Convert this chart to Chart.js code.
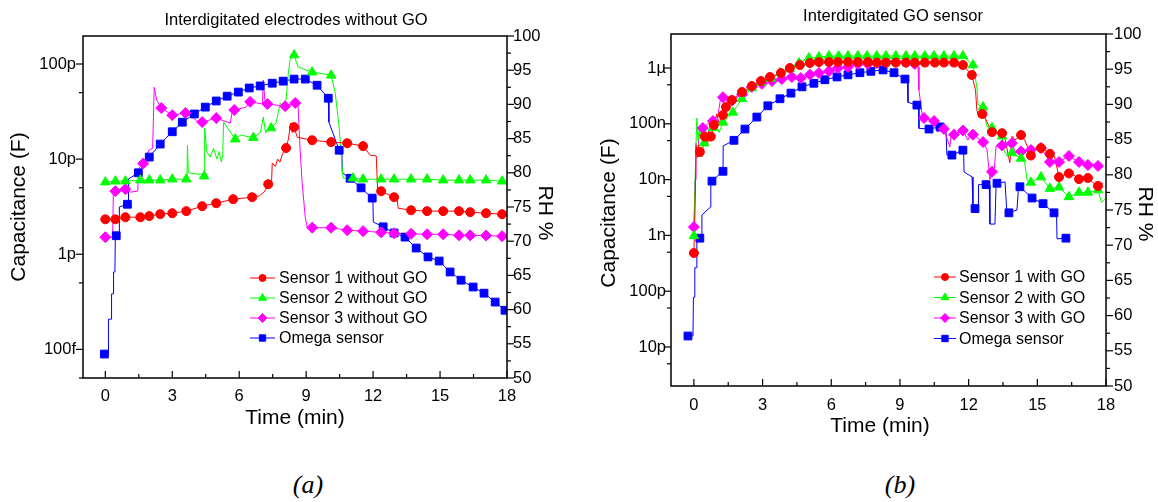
<!DOCTYPE html>
<html>
<head>
<meta charset="utf-8">
<script src="https://cdn.jsdelivr.net/npm/chart.js@4.4.0/dist/chart.umd.min.js"></script>
<style>
  body { margin: 0; background: #fff; width: 1158px; height: 502px; position: relative; overflow: hidden; }
  canvas { position: absolute; top: 0; }
  #chartA { left: 0; }
  #chartB { left: 579px; }
  .tag { position: absolute; top: 470px; transform: translateX(-50%); font: italic 26px "Liberation Serif", "Times New Roman", serif; color: #000; }
</style>
</head>
<body>
<canvas id="chartA" width="579" height="440"></canvas>
<canvas id="chartB" width="579" height="440"></canvas>
<div class="tag" style="left:308px">(a)</div>
<div class="tag" style="left:900px">(b)</div>
<script>
// ---- axes ----
const timeTicks = [0, 3, 6, 9, 12, 15, 18];
const capTicksA = [1e-13, 1e-12, 1e-11, 1e-10];
const capLabelsA = ['100f', '1p', '10p', '100p'];
const capTicksB = [1e-11, 1e-10, 1e-9, 1e-8, 1e-7, 1e-6];
const capLabelsB = ['10p', '100p', '1n', '10n', '100n', '1\u00b5'];

// ---- (a) electrodes without GO: [time (min), capacitance (F)] ----
// "Marks" carry a symbol, "Between" are the unmarked readings the line passes through
const sensor1AMarks = [[0,2.33e-12],[0.45,2.33e-12],[0.9,2.45e-12],[1.57,2.45e-12],[1.97,2.52e-12],[2.46,2.64e-12],[3.0,2.7e-12],[3.63,2.84e-12],[4.34,3.2e-12],[4.97,3.44e-12],[5.73,3.79e-12],[6.58,3.98e-12],[7.3,5.45e-12],[8.1,1.31e-11],[8.46,2.17e-11],[9.27,1.58e-11],[10.12,1.51e-11],[10.84,1.47e-11],[11.55,1.37e-11],[12.36,4.6e-12],[12.94,3.98e-12],[13.7,2.9e-12],[14.42,2.84e-12],[15.14,2.84e-12],[15.85,2.84e-12],[16.35,2.77e-12],[17.06,2.7e-12],[17.78,2.64e-12]];
const sensor1ABetween = [[6.9,4.1e-12],[7.15,4.6e-12],[7.45,5.7e-12],[7.48,9.1e-12],[7.62,8.4e-12],[7.72,1.0e-11],[7.82,9.3e-12],[7.95,1.15e-11],[8.2,1.6e-11],[8.3,2.39e-11],[8.38,1.9e-11],[8.6,1.7e-11],[11.87,1.1e-11],[12.14,1.08e-11],[12.2,4.95e-12],[13.08,3.9e-12],[13.12,3.05e-12]];

const sensor2AMarks = [[0,5.73e-12],[0.45,5.86e-12],[0.9,5.86e-12],[1.57,6.01e-12],[1.97,6.01e-12],[2.46,6.01e-12],[3.0,6.15e-12],[3.63,6.15e-12],[4.43,6.62e-12],[5.82,1.62e-11],[6.63,1.68e-11],[7.43,2.12e-11],[8.46,1.24e-10],[9.27,8.2e-11],[10.12,7.6e-11],[11.1,6.3e-12],[11.55,6.15e-12],[12.36,6.15e-12],[12.94,6.15e-12],[13.7,6.15e-12],[14.42,6.15e-12],[15.14,6.01e-12],[15.85,6.01e-12],[16.35,6.01e-12],[17.06,6.01e-12],[17.78,5.86e-12]];
const sensor2ABetween = [[3.66,6.2e-12],[3.68,1.4e-11],[3.72,7.2e-12],[4.0,7.0e-12],[4.4,6.9e-12],[4.45,2.12e-11],[4.55,1.19e-11],[4.7,1.05e-11],[4.85,1.3e-11],[5.0,1.0e-11],[5.1,1.2e-11],[5.2,9.3e-12],[5.26,1.1e-11],[5.3,2.45e-11],[5.45,2.17e-11],[6.05,1.79e-11],[6.95,1.9e-11],[7.08,2.77e-11],[7.18,1.9e-11],[7.65,2.4e-11],[7.84,3.88e-11],[7.95,3.6e-11],[8.1,4.18e-11],[8.2,8.04e-11],[8.28,1.1e-10],[8.64,9.3e-11],[9.63,8.0e-11],[10.3,5.0e-11],[10.48,2.17e-11],[10.61,8.2e-12],[10.66,6.3e-12]];

const sensor3AMarks = [[0,1.51e-12],[0.45,4.6e-12],[0.9,4.83e-12],[1.7,9.0e-12],[2.51,3.44e-11],[3.0,2.9e-11],[3.59,3.05e-11],[4.34,2.45e-11],[4.97,2.7e-11],[5.78,3.28e-11],[6.49,4.0e-11],[7.26,3.8e-11],[8.06,3.6e-11],[8.51,3.9e-11],[9.27,1.9e-12],[10.12,1.9e-12],[10.84,1.79e-12],[11.55,1.75e-12],[12.36,1.7e-12],[12.94,1.66e-12],[13.7,1.64e-12],[14.42,1.62e-12],[15.14,1.62e-12],[15.85,1.58e-12],[16.35,1.58e-12],[17.06,1.57e-12],[17.78,1.55e-12]];
const sensor3ABetween = [[0.33,1.51e-12],[0.36,4.6e-12],[1.12,4.5e-12],[1.45,4.6e-12],[1.5,8.0e-12],[1.95,1.24e-11],[2.12,1.3e-11],[2.19,5.7e-11],[2.3,4.18e-11],[3.9,2.77e-11],[4.2,2.4e-11],[5.6,2.39e-11],[5.7,3.28e-11],[6.3,3.52e-11],[7.04,3.8e-11],[7.08,6.8e-11],[7.15,4.18e-11],[8.64,3.6e-11],[8.73,1.24e-11],[8.82,5.6e-12],[8.96,2.45e-12],[9.05,1.9e-12]];

// Omega reference sensor, [time (min), RH %]
const omegaAMarks = [[-0.04,53.5],[0.49,70.8],[0.99,75.4],[1.48,80.0],[1.97,82.3],[2.46,84.2],[3.0,86.0],[3.45,87.4],[3.99,88.6],[4.48,89.6],[4.97,90.5],[5.46,91.2],[5.96,91.8],[6.45,92.4],[6.94,92.7],[7.48,93.1],[7.97,93.4],[8.46,93.7],[8.96,93.7],[9.49,92.8],[9.99,90.9],[10.48,83.3],[10.97,79.2],[11.46,77.8],[11.96,76.3],[12.45,72.1],[12.94,71.2],[13.43,70.6],[13.93,69.0],[14.46,67.7],[14.96,67.1],[15.45,65.5],[15.94,64.3],[16.48,63.3],[16.97,62.4],[17.47,61.1],[17.91,59.9]];
const omegaABetween = [[0.13,53.5],[0.14,58.6],[0.27,58.6],[0.28,62.3],[0.36,62.3],[0.37,65.5],[0.43,65.5],[0.45,70.8],[0.62,70.8],[0.63,75.0],[1.03,75.4],[1.04,79.1],[10.02,87.4],[10.6,83.0],[10.62,80.0],[11.99,76.0],[12.01,72.8]];

// ---- (b) GO sensors ----
const sensor1BMarks = [[0,4.84e-10],[0.26,3.13e-8],[0.48,5.9e-8],[0.74,5.9e-8],[0.87,9.5e-8],[1.27,1.44e-7],[1.4,2.0e-7],[1.66,2.67e-7],[2.1,3.72e-7],[2.53,4.75e-7],[2.93,5.85e-7],[3.32,6.9e-7],[3.8,8.13e-7],[4.19,1.0e-6],[4.63,1.13e-6],[5.07,1.23e-6],[5.46,1.28e-6],[5.9,1.28e-6],[6.29,1.28e-6],[6.73,1.28e-6],[7.16,1.28e-6],[7.6,1.28e-6],[7.99,1.25e-6],[8.39,1.25e-6],[8.82,1.25e-6],[9.26,1.25e-6],[9.65,1.25e-6],[10.09,1.25e-6],[10.53,1.25e-6],[10.92,1.25e-6],[11.36,1.25e-6],[11.75,1.13e-6],[12.14,7.5e-7],[12.6,1.5e-7],[13.02,7.1e-8],[13.46,6.8e-8],[14.29,6.3e-8],[14.72,2.7e-8],[15.16,3.68e-8],[15.55,2.9e-8],[15.95,1.11e-8],[16.38,1.29e-8],[16.82,1.02e-8],[17.21,1.07e-8],[17.65,7.7e-9]];
const sensor1BBetween = [[0.05,3e-9],[0.1,4.0e-8],[0.15,2.5e-8],[0.2,4.2e-8],[0.35,2.6e-8],[0.42,4.5e-8],[0.6,4.2e-8],[0.65,7.5e-8],[0.8,7.0e-8],[1.0,1.5e-7],[1.1,1.0e-7],[1.2,1.3e-7],[12.3,4.0e-7],[12.36,1.77e-7],[12.45,1.3e-7],[12.75,1.2e-7],[12.93,8.4e-8],[13.6,5.1e-8],[13.8,2.0e-8],[13.9,6.0e-8],[14.02,5.1e-8],[14.45,5.1e-8],[14.9,3.5e-8],[15.3,3.4e-8],[15.75,2.6e-8],[16.6,1.2e-8],[17.4,9.0e-9],[17.87,8.7e-9]];

const sensor2BMarks = [[0,9.8e-10],[0.44,4.5e-8],[0.83,8.5e-8],[1.27,1.06e-7],[1.7,1.6e-7],[2.1,2.8e-7],[2.53,4.4e-7],[2.93,5.5e-7],[3.36,6.5e-7],[3.76,8.13e-7],[4.19,9.6e-7],[4.59,1.23e-6],[5.02,1.51e-6],[5.46,1.57e-6],[5.9,1.64e-6],[6.32,1.64e-6],[6.73,1.64e-6],[7.16,1.64e-6],[7.56,1.64e-6],[7.99,1.64e-6],[8.39,1.64e-6],[8.82,1.64e-6],[9.26,1.64e-6],[9.65,1.64e-6],[10.09,1.64e-6],[10.49,1.64e-6],[10.92,1.64e-6],[11.36,1.64e-6],[11.75,1.64e-6],[12.19,1.13e-6],[12.63,2.0e-7],[13.02,8.5e-8],[13.46,6.0e-8],[13.89,3.0e-8],[14.29,2.4e-8],[14.72,8.9e-9],[15.16,1.11e-8],[15.55,6.9e-9],[15.95,7.3e-9],[16.38,4.9e-9],[16.82,5.9e-9],[17.21,5.9e-9],[17.65,6.5e-9]];
const sensor2BBetween = [[0.08,3e-8],[0.13,1.27e-7],[0.18,5e-8],[0.24,9e-8],[0.3,5.5e-8],[0.36,8e-8],[0.6,6.5e-8],[0.7,5e-8],[1.0,9e-8],[1.1,7e-8],[1.5,1.3e-7],[12.36,4.57e-7],[12.41,2.2e-7],[12.8,9e-8],[13.55,3.3e-8],[13.7,2.6e-8],[14.45,2.0e-8],[14.55,1.0e-8],[17.8,3.9e-9],[17.95,4.5e-9]];

const sensor3BMarks = [[0,1.41e-9],[0.39,8.4e-8],[0.83,1.12e-7],[1.27,3.0e-7],[1.66,2.6e-7],[2.1,3.35e-7],[2.53,4.57e-7],[2.97,5.2e-7],[3.41,5.85e-7],[3.84,6.35e-7],[4.28,6.9e-7],[4.67,6.6e-7],[5.07,7.6e-7],[5.46,8.13e-7],[5.9,8.8e-7],[6.29,1.0e-6],[6.73,1.04e-6],[7.16,1.18e-6],[7.6,1.18e-6],[7.99,1.23e-6],[8.39,1.28e-6],[8.82,1.28e-6],[9.26,1.28e-6],[9.65,1.18e-6],[10.05,1.27e-7],[10.49,1.12e-7],[10.92,8.1e-8],[11.36,6.4e-8],[11.75,7.6e-8],[12.19,6.4e-8],[12.63,4.7e-8],[13.02,1.38e-8],[13.46,4.1e-8],[13.89,4.5e-8],[14.29,3.2e-8],[14.72,3.4e-8],[15.16,3.68e-8],[15.55,2.07e-8],[15.95,2.07e-8],[16.38,2.65e-8],[16.82,2.07e-8],[17.21,1.83e-8],[17.65,1.76e-8]];
const sensor3BBetween = [[0.05,1.0e-8],[0.09,4.5e-8],[0.15,3.0e-8],[0.25,7.0e-8],[0.6,1.0e-7],[1.05,1.4e-7],[1.15,2.6e-7],[9.79,1.05e-6],[9.83,4.0e-7],[9.96,1.56e-7],[10.66,7.1e-8],[10.75,9.0e-8],[11.18,3.84e-8],[11.25,7.0e-8],[11.97,5.1e-8],[12.1,7.0e-8],[12.8,3.5e-8],[12.93,1.0e-8],[13.1,1.2e-8],[13.2,4.0e-8],[14.05,3.0e-8],[17.87,1.68e-8]];

const omegaBMarks = [[-0.26,57.1],[0.26,71.0],[0.79,79.1],[1.27,80.5],[1.75,84.9],[2.23,86.5],[2.75,88.2],[3.23,89.8],[3.76,90.8],[4.24,91.6],[4.72,92.5],[5.24,93.0],[5.72,93.5],[6.25,93.9],[6.73,94.2],[7.25,94.5],[7.73,94.7],[8.26,94.9],[8.74,94.5],[9.22,93.6],[9.74,89.9],[10.27,86.5],[10.75,86.8],[11.27,82.8],[11.75,83.5],[12.28,75.2],[12.76,78.6],[13.24,78.8],[13.76,74.6],[14.24,78.3],[14.77,76.7],[15.25,75.9],[15.73,74.6],[16.25,71.0]];
const omegaBBetween = [[-0.04,57.1],[-0.02,62.6],[0.02,62.6],[0.04,66.8],[0.1,66.8],[0.13,71.0],[0.33,71.0],[0.35,74.3],[0.72,75.4],[0.74,79.1],[1.28,84.1],[9.33,93.4],[9.35,90.3],[9.81,89.9],[9.83,86.6],[11.01,86.4],[11.05,82.8],[11.78,83.4],[11.8,80.4],[12.15,79.7],[12.19,75.2],[12.41,75.3],[12.43,78.6],[12.9,78.5],[12.93,73.0],[13.15,73.0],[13.2,78.8],[13.59,79.0],[13.67,74.6],[14.11,75.0],[14.18,78.3],[15.84,74.4],[15.86,70.9]];

const RED = '#ff0000', GREEN = '#00ff00', MAGENTA = '#ff00ff', BLUE = '#0000ff';
const FONT = '"Liberation Sans", Arial, sans-serif';

// one series = a thin line through every reading + symbols on the marked ones
function series(label, marks, between, color, style, radius, axis) {
  const trace = marks.concat(between).sort((p, q) => p[0] - q[0]);
  return [
    { label: label, data: trace, yAxisID: axis, borderColor: color, borderWidth: 1, pointRadius: 0, tension: 0, order: 2 },
    { label: label, data: marks, yAxisID: axis, showLine: false, pointStyle: style, pointRadius: radius,
      backgroundColor: color, borderColor: color, borderWidth: 1, order: 1 }
  ];
}

// frame, inward time ticks, outward y ticks, titles and legend
const decor = {
  id: 'decor',
  afterDraw(chart, args, o) {
    const { ctx, chartArea: a } = chart;
    const sx = chart.scales.x, sc = chart.scales.cap, sr = chart.scales.rh;
    ctx.save();
    ctx.strokeStyle = '#000';
    ctx.lineWidth = 1.2;
    const seg = (x1, y1, x2, y2) => { ctx.beginPath(); ctx.moveTo(x1, y1); ctx.lineTo(x2, y2); ctx.stroke(); };

    for (let t = 0; t <= 18; t += 1.5) {
      const px = sx.getPixelForValue(t);
      seg(px, a.bottom, px, a.bottom - (t % 3 ? 4 : 7));
    }
    for (let k = Math.floor(Math.log10(sc.min)); k <= Math.log10(sc.max); k++) {
      const major = Math.pow(10, k), minor = 5 * major;
      if (major >= sc.min) { const py = sc.getPixelForValue(major); seg(a.left, py, a.left - 7, py); }
      if (minor <= sc.max && minor >= sc.min) { const py = sc.getPixelForValue(minor); seg(a.left, py, a.left - 4, py); }
    }
    for (let v = 50; v <= 100; v += 2.5) {
      const py = sr.getPixelForValue(v);
      seg(a.right, py, a.right + (v % 5 ? 4 : 7), py);
    }
    ctx.lineWidth = 1.5;
    ctx.strokeRect(a.left, a.top, a.right - a.left, a.bottom - a.top);

    ctx.fillStyle = '#000';
    ctx.textAlign = 'center';
    ctx.textBaseline = 'middle';
    ctx.font = '16.5px ' + FONT;
    ctx.fillText(o.title, o.titleX, o.titleY);

    ctx.font = '21px ' + FONT;
    ctx.fillText('Time (min)', o.xTitle[0], o.xTitle[1]);
    ctx.save();
    ctx.translate(o.yTitle[0], o.yTitle[1]);
    ctx.rotate(-Math.PI / 2);
    ctx.fillText('Capacitance (F)', 0, 0);
    ctx.restore();
    ctx.save();
    ctx.translate(o.rhTitle[0], o.rhTitle[1]);
    ctx.rotate(Math.PI / 2);
    ctx.fillText('RH %', 0, 0);
    ctx.restore();

    // legend
    const L = o.legend;
    ctx.font = '16px ' + FONT;
    ctx.textAlign = 'left';
    L.items.forEach((it, i) => {
      const y = L.y + i * L.gap;
      ctx.strokeStyle = it.color;
      ctx.lineWidth = 1;
      seg(L.x, y, L.x + L.len, y);
      ctx.fillStyle = it.color;
      Chart.helpers.drawPoint(ctx, { pointStyle: it.style, radius: it.radius, rotation: 0, borderWidth: 1 }, L.x + L.len / 2, y);
      ctx.fillStyle = '#000';
      ctx.fillText(it.label, L.textX, y + 1);
    });
    ctx.restore();
  }
};

function makeChart(id, datasets, cfg) {
  const tickFont = { family: FONT, size: 16.5 };
  return new Chart(document.getElementById(id), {
    type: 'line',
    data: { datasets: datasets },
    options: {
      responsive: false,
      animation: false,
      devicePixelRatio: 1,
      layout: { padding: { top: cfg.top, left: 0, right: 0, bottom: 0 } },
      plugins: { legend: { display: false }, tooltip: { enabled: false }, decor: cfg.decor },
      scales: {
        x: {
          type: 'linear', min: -1, max: 18,
          grid: { display: false, drawTicks: false }, border: { display: false },
          afterBuildTicks: s => { s.ticks = timeTicks.map(v => ({ value: v })); },
          ticks: { color: '#000', font: tickFont, padding: cfg.xPad, autoSkip: false, maxRotation: 0 },
          afterFit: s => { s.height = cfg.xHeight; }
        },
        cap: {
          type: 'logarithmic', position: 'left', min: cfg.capMin, max: cfg.capMax,
          grid: { display: false, drawTicks: false }, border: { display: false },
          afterBuildTicks: s => { s.ticks = cfg.capTicks.map(v => ({ value: v })); },
          ticks: { color: '#000', font: tickFont, padding: cfg.capPad, autoSkip: false,
                   callback: (v, i) => cfg.capLabels[i] },
          afterFit: s => { s.width = cfg.leftWidth; }
        },
        rh: {
          type: 'linear', position: 'right', min: 50, max: 100,
          grid: { display: false, drawTicks: false }, border: { display: false },
          ticks: { color: '#000', font: tickFont, stepSize: 5, padding: cfg.rhPad, autoSkip: false },
          afterFit: s => { s.width = cfg.rightWidth; }
        }
      }
    },
    plugins: [decor]
  });
}

const legendStyles = [
  { color: RED, style: 'circle', radius: 3.5 },
  { color: GREEN, style: 'triangle', radius: 4.5 },
  { color: MAGENTA, style: 'rectRot', radius: 4.5 },
  { color: BLUE, style: 'rect', radius: 4.5 }
];

const namesA = ['Sensor 1 without GO', 'Sensor 2 without GO', 'Sensor 3 without GO', 'Omega sensor'];
const namesB = ['Sensor 1 with GO', 'Sensor 2 with GO', 'Sensor 3 with GO', 'Omega sensor'];

makeChart('chartA', [].concat(
  series(namesA[0], sensor1AMarks, sensor1ABetween, RED, 'circle', 4.5, 'cap'),
  series(namesA[1], sensor2AMarks, sensor2ABetween, GREEN, 'triangle', 5.5, 'cap'),
  series(namesA[2], sensor3AMarks, sensor3ABetween, MAGENTA, 'rectRot', 5.5, 'cap'),
  series(namesA[3], omegaAMarks, omegaABetween, BLUE, 'rect', 5.5, 'rh')
), {
  top: 36, xHeight: 62, leftWidth: 83, rightWidth: 72,
  capMin: 5e-14, capMax: 1.97e-10, capTicks: capTicksA, capLabels: capLabelsA,
  xPad: 9, capPad: 7, rhPad: 6,
  decor: {
    title: 'Interdigitated electrodes without GO', titleX: 296, titleY: 20,
    xTitle: [295, 418], yTitle: [19, 207], rhTitle: [545, 213],
    legend: { x: 250, y: 278, gap: 20, len: 25, textX: 279,
              items: namesA.map((n, i) => Object.assign({ label: n }, legendStyles[i])) }
  }
});

makeChart('chartB', [].concat(
  series(namesB[0], sensor1BMarks, sensor1BBetween, RED, 'circle', 4.5, 'cap'),
  series(namesB[1], sensor2BMarks, sensor2BBetween, GREEN, 'triangle', 5.5, 'cap'),
  series(namesB[2], sensor3BMarks, sensor3BBetween, MAGENTA, 'rectRot', 5.5, 'cap'),
  series(namesB[3], omegaBMarks, omegaBBetween, BLUE, 'rect', 5.5, 'rh')
), {
  top: 34, xHeight: 54, leftWidth: 92, rightWidth: 52,
  capMin: 2e-12, capMax: 4.07e-6, capTicks: capTicksB, capLabels: capLabelsB,
  xPad: 10, capPad: 5, rhPad: 8,
  decor: {
    title: 'Interdigitated GO sensor', titleX: 314, titleY: 16,
    xTitle: [301, 426], yTitle: [30, 213], rhTitle: [566, 214],
    legend: { x: 355, y: 277, gap: 20.5, len: 22, textX: 380,
              items: namesB.map((n, i) => Object.assign({ label: n }, legendStyles[i])) }
  }
});
</script>
</body>
</html>
